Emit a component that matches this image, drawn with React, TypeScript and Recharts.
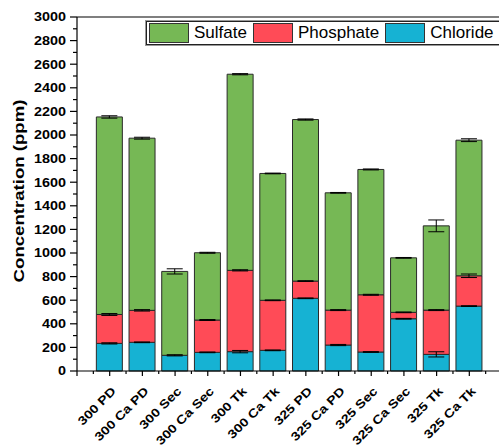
import { BarChart, Bar, XAxis, YAxis, ErrorBar, ReferenceLine, Legend } from "recharts";

// sample names along the x axis
const categories = [
  "300 PD", "300 Ca PD", "300 Sec", "300 Ca Sec", "300 Tk", "300 Ca Tk",
  "325 PD", "325 Ca PD", "325 Sec", "325 Ca Sec", "325 Tk", "325 Ca Tk",
];

// stacked segments (ppm), bottom to top
const chloride = [234, 243, 133, 158, 164, 175, 616, 220, 161, 443, 141, 550];
const phosphate = [245, 271, 0, 274, 689, 424, 146, 296, 485, 54, 375, 257];
const sulfate = [1674, 1459, 711, 570, 1662, 1075, 1369, 994, 1062, 462, 714, 1149];

// error bar half-widths (ppm)
const chlorideErr = [5, 3, 5, 3, 10, 3, 3, 5, 3, 3, 22, 3];
const phosphateErr = [8, 6, 0, 4, 5, 3, 3, 4, 4, 3, 4, 15];
const sulfateErr = [10, 8, 22, 4, 5, 3, 5, 3, 4, 3, 50, 12];

const yTicks = [
  0, 100, 200, 300, 400, 500, 600, 700, 800, 900, 1000, 1100, 1200, 1300, 1400, 1500,
  1600, 1700, 1800, 1900, 2000, 2100, 2200, 2300, 2400, 2500, 2600, 2700, 2800, 2900, 3000,
];
const xTicks = [1, 2, 3, 4, 5, 6, 7, 8, 9, 10, 11, 12];

const series = [
  { key: "sulfate", name: "Sulfate", color: "#76B855" },
  { key: "phosphate", name: "Phosphate", color: "#FF4B57" },
  { key: "chloride", name: "Chloride", color: "#16B2D3" },
];

const data = categories.map((c, i) => ({
  pos: i + 1,
  label: c,
  chloride: chloride[i],
  phosphate: phosphate[i],
  sulfate: sulfate[i],
  clErr: chlorideErr[i],
  phErr: phosphateErr[i],
  suErr: sulfateErr[i],
}));

const FONT = "'Liberation Sans', Arial, sans-serif";
const BW = 425 / 13; // one category step in px

function YTick(props: any) {
  const { x, y, payload } = props;
  const v = payload.value as number;
  const major = v % 200 === 0;
  return (
    <g>
      <line x1={x} x2={x - (major ? 7 : 4)} y1={y} y2={y} stroke="#000" strokeWidth={1.2} />
      {major && (
        <text
          transform={`translate(${x - 11},${y}) scale(1.2,1)`}
          textAnchor="end"
          dy="0.36em"
          fontFamily={FONT}
          fontWeight="bold"
          fontSize={12}
          fill="#000"
        >
          {v}
        </text>
      )}
    </g>
  );
}

function XTick(props: any) {
  const { x, y, payload } = props;
  const i = payload.value - 1;
  return (
    <g>
      <line x1={x} x2={x} y1={y} y2={y + 5} stroke="#000" strokeWidth={1.2} />
      <line x1={x - BW / 2} x2={x - BW / 2} y1={y} y2={y + 3} stroke="#000" strokeWidth={1.2} />
      {i === 0 && <line x1={x - BW} x2={x - BW} y1={y} y2={y + 5} stroke="#000" strokeWidth={1.2} />}
      {i === categories.length - 1 && (
        <line x1={x + BW / 2} x2={x + BW / 2} y1={y} y2={y + 3} stroke="#000" strokeWidth={1.2} />
      )}
      <text
        transform={`translate(${x + 7},${y + 21}) rotate(-45) scale(1.2,1)`}
        textAnchor="end"
        fontFamily={FONT}
        fontWeight="bold"
        fontSize={12}
        fill="#000"
      >
        {categories[i]}
      </text>
    </g>
  );
}

function LegendBox() {
  return (
    <div
      style={{
        display: "flex",
        alignItems: "center",
        border: "1px solid #222",
        outline: "1px solid #999",
        background: "#fff",
        padding: "1px 20px 1px 2px",
        height: 20,
        fontFamily: FONT,
        fontSize: 17,
        whiteSpace: "nowrap",
      }}
    >
      {series.map((s) => (
        <div key={s.key} style={{ display: "flex", alignItems: "center" }}>
          <span
            style={{
              width: 38,
              height: 18,
              background: s.color,
              border: "1px solid #333",
              display: "inline-block",
            }}
          />
          <span style={{ marginLeft: 5, marginRight: 6, color: "#000" }}>{s.name}</span>
        </div>
      ))}
    </div>
  );
}

export default function App() {
  return (
    <div
      style={{
        position: "fixed",
        left: 0,
        top: 0,
        width: 499,
        height: 446,
        overflow: "hidden",
        background: "#fff",
      }}
    >
      <BarChart width={510} height={446} data={data} margin={{ top: 17, right: 8, left: 0, bottom: 0 }}>
        <XAxis
          dataKey="pos"
          type="number"
          domain={[0, 13]}
          ticks={xTicks}
          height={75}
          tickLine={false}
          tickSize={0}
          tickMargin={0}
          tick={<XTick />}
          axisLine={{ stroke: "#000", strokeWidth: 1.2 }}
        />
        <YAxis
          type="number"
          domain={[0, 3000]}
          ticks={yTicks}
          interval={0}
          width={77}
          tickLine={false}
          tickSize={0}
          tickMargin={0}
          tick={<YTick />}
          axisLine={{ stroke: "#000", strokeWidth: 1.2 }}
          label={{
            content: () => (
              <text
                transform="translate(19,191) rotate(-90) scale(1.2,1)"
                textAnchor="middle"
                dominantBaseline="central"
                fontFamily={FONT}
                fontWeight="bold"
                fontSize={15.5}
                fill="#000"
              >
                Concentration (ppm)
              </text>
            ),
          }}
        />
        <ReferenceLine y={3000} stroke="#000" strokeWidth={1.2} />
        <Legend
          verticalAlign="middle"
          align="center"
          content={() => <LegendBox />}
          wrapperStyle={{ position: "absolute", top: 21, left: 146, width: "auto" }}
        />
        <Bar dataKey="chloride" name="Chloride" stackId="a" fill="#16B2D3" stroke="#2a2a2a" strokeWidth={1} barSize={26} isAnimationActive={false}>
          <ErrorBar dataKey="clErr" width={8} stroke="#000" strokeWidth={1} />
        </Bar>
        <Bar dataKey="phosphate" name="Phosphate" stackId="a" fill="#FF4B57" stroke="#2a2a2a" strokeWidth={1} barSize={26} isAnimationActive={false}>
          <ErrorBar dataKey="phErr" width={8} stroke="#000" strokeWidth={1} />
        </Bar>
        <Bar dataKey="sulfate" name="Sulfate" stackId="a" fill="#76B855" stroke="#2a2a2a" strokeWidth={1} barSize={26} isAnimationActive={false}>
          <ErrorBar dataKey="suErr" width={8} stroke="#000" strokeWidth={1} />
        </Bar>
      </BarChart>
    </div>
  );
}
